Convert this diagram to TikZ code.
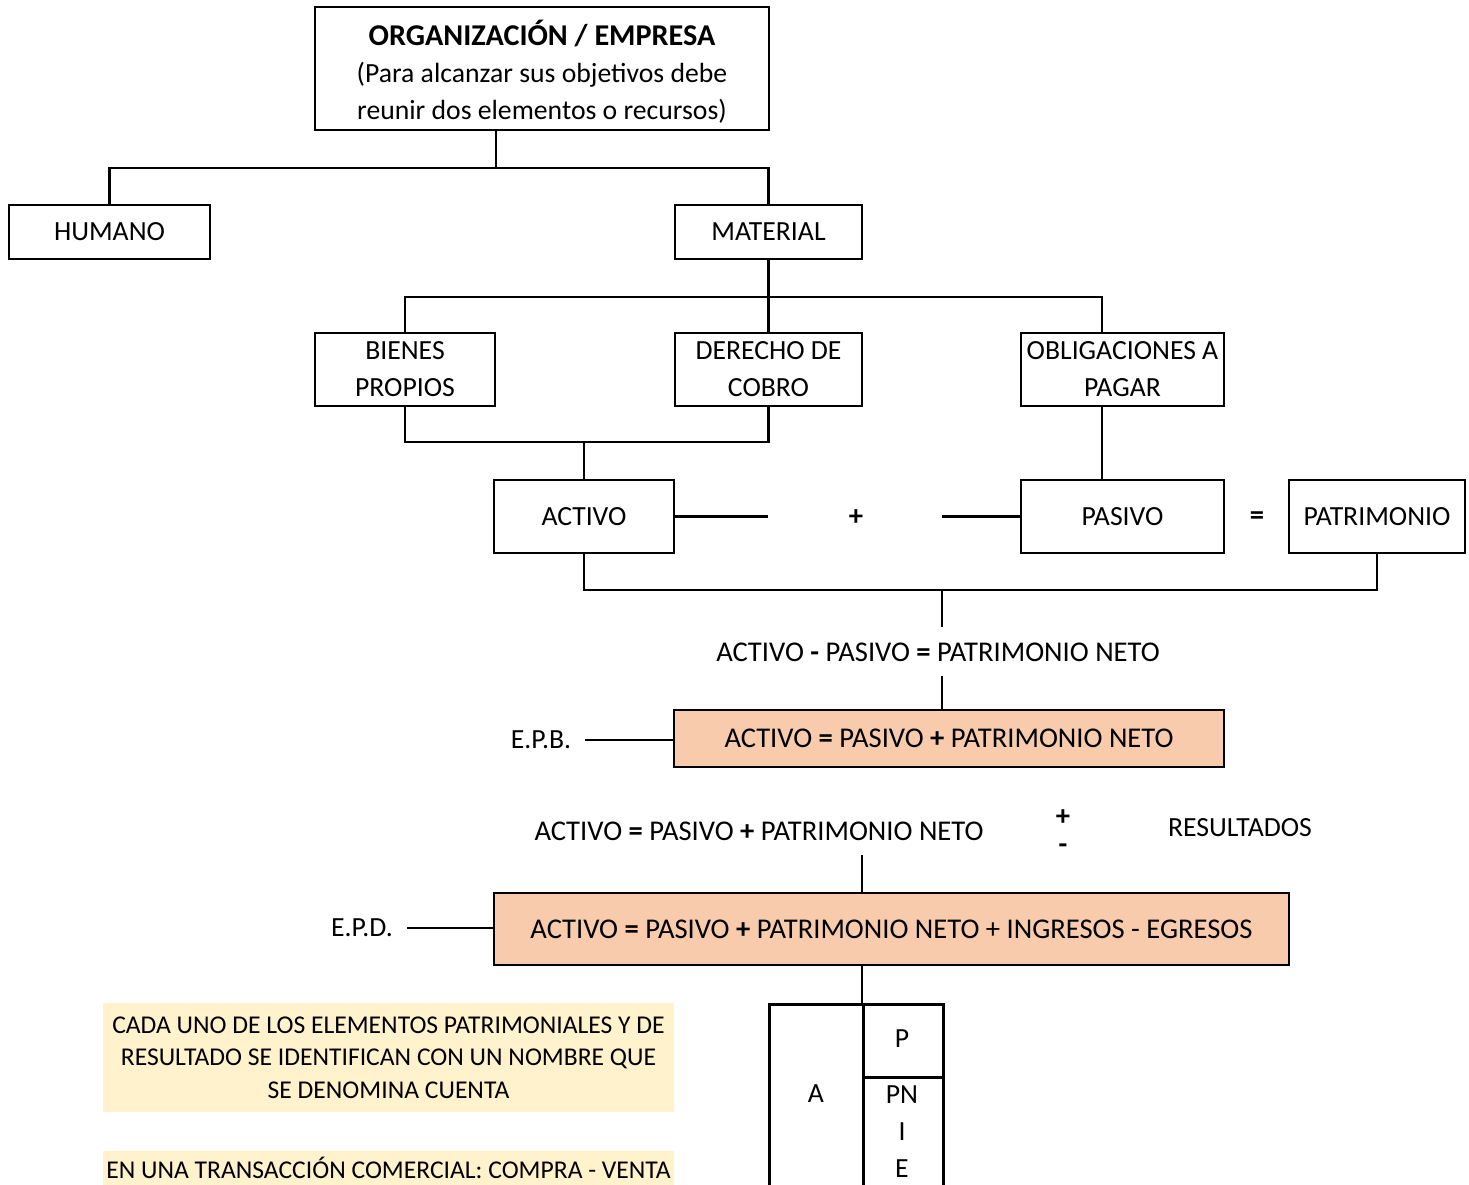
\documentclass[tikz,border=0pt]{standalone}
\usepackage{fontspec}
\setmainfont{Carlito}
\newcommand\fsz{\fontsize{27.7}{37}\selectfont}
\newcommand\fsq{\fontsize{28.6}{37}\selectfont}
\newcommand\fst{\fontsize{30.2}{37}\selectfont}
\newcommand\fsn{\fontsize{25.6}{32.5}\selectfont}
\definecolor{peach}{HTML}{F8CBAD}
\definecolor{notey}{HTML}{FFF2CC}
\begin{document}
\begin{tikzpicture}[x=1pt,y=-1pt,line width=2.6pt,
  box/.style={draw,line width=2.6pt,inner sep=0pt,align=center,font=\fsz},
  lbl/.style={inner sep=0pt,align=center,font=\fsz},
  eql/.style={inner sep=0pt,align=center,font=\fsq},
  note/.style={fill=notey,inner sep=0pt,align=center,font=\fsn},
  eqbox/.style={box,fill=peach,font=\fsq}]
\useasboundingbox (0,0) rectangle (1469,1184);
\clip (0,0) rectangle (1469,1184);
% boxes
\node[box,minimum width=454,minimum height=123] (org) at (542,68.5) {};
\node[lbl] (orgt) at ([yshift=-3.5pt]org.center) {{\fst\textbf{ORGANIZACIÓN / EMPRESA}}\\(Para alcanzar sus objetivos debe\\reunir dos elementos o recursos)};
\node[box,minimum width=201,minimum height=54] (hum) at (109.5,232) {HUMANO};
\node[box,minimum width=187,minimum height=54] (mat) at (768.5,232) {MATERIAL};
\node[box,minimum width=180,minimum height=73] (bie) at (405,369.5) {BIENES\\PROPIOS};
\node[box,minimum width=187,minimum height=73] (der) at (768.5,369.5) {DERECHO DE\\COBRO};
\node[box,minimum width=203,minimum height=73] (obl) at (1122.5,369.5) {OBLIGACIONES A\\PAGAR};
\node[box,minimum width=180,minimum height=73] (act) at (584,516.5) {ACTIVO};
\node[box,minimum width=203,minimum height=73] (pas) at (1122.5,516.5) {PASIVO};
\node[box,minimum width=176,minimum height=73] (pat) at (1377,516.5) {PATRIMONIO};
\node[eql] (plus) at (856,518) {\textbf{+}};
\node[eql] (eqs) at (1257,518) {\textbf{=}};
\node[eql] (eq1) at (938,652) {ACTIVO \textbf{-} PASIVO \textbf{=} PATRIMONIO NETO};
\node[eqbox,minimum width=550,minimum height=57] (epb) at (949,738.5) {ACTIVO \textbf{=} PASIVO \textbf{+} PATRIMONIO NETO};
\node[lbl] (lblB) at (541,740) {E.P.B.};
\node[eql] (eq2) at (759,831) {ACTIVO \textbf{=} PASIVO \textbf{+} PATRIMONIO NETO};
\node[eql,font=\fontsize{28.6}{28}\selectfont] (pm) at (1063,832) {\textbf{+}\\\textbf{-}};
\node[lbl] (res) at (1240,828) {RESULTADOS};
\node[eqbox,minimum width=795,minimum height=72] (epd) at (891.5,929) {ACTIVO \textbf{=} PASIVO \textbf{+} PATRIMONIO NETO + INGRESOS - EGRESOS};
\node[lbl] (lblD) at (362,928) {E.P.D.};
% T account
\node[draw,line width=2.6pt,inner sep=0pt,minimum width=94,minimum height=220,anchor=north west] (tA) at (768,1003) {};
\node[draw,line width=2.6pt,inner sep=0pt,minimum width=80,minimum height=73,anchor=north west] (tP) at (862,1003) {};
\node[draw,line width=2.6pt,inner sep=0pt,minimum width=80,minimum height=147,anchor=north west] (tR) at (862,1076) {};
\node[lbl] (ta) at (816,1094) {A};
\node[lbl] (tp) at (902,1039) {P};
\node[lbl] (tpn) at (902,1095) {PN};
\node[lbl] (ti) at (902,1132) {I};
\node[lbl] (te) at (902,1169) {E};
% notes
\node[note,minimum width=571,minimum height=109] (n1) at (388.5,1057.5) {CADA UNO DE LOS ELEMENTOS PATRIMONIALES Y DE\\RESULTADO SE IDENTIFICAN CON UN NOMBRE QUE\\SE DENOMINA CUENTA};
\node[fill=notey,inner sep=0pt,minimum width=571,minimum height=50,anchor=north] (n2) at (388.5,1150) {};
\node[lbl,font=\fsn] (n2t) at (388.5,1168) {EN UNA TRANSACCIÓN COMERCIAL: COMPRA - VENTA};
% connectors
\coordinate (j1) at (496,168);
\draw ([xshift=-46pt]org.south) -- (j1);
\draw (hum.north) |- (j1) -| (mat.north);
\coordinate (j2) at (768.5,297);
\draw (mat.south) -- (j2) -- (der.north);
\draw (bie.north) |- (j2);
\draw (j2) -| ([xshift=-20.5pt]obl.north);
\coordinate (j3) at (584,442);
\draw (bie.south) |- (j3) -| (der.south);
\draw (j3) -- (act.north);
\draw ([xshift=-20.5pt]obl.south) -- ([xshift=-20.5pt]pas.north);
\coordinate (pl1) at (768,516.5);
\coordinate (pl2) at (942,516.5);
\draw (act.east) -- (pl1);
\draw (pl2) -- (pas.west);
\coordinate (j4) at (942,590);
\draw (act.south) |- (j4) -| (pat.south);
\coordinate (c5) at (942,627);
\draw (j4) -- (c5);
\coordinate (c6) at (942,676);
\draw (c6) -- (epb.north -| c6);
\draw ([xshift=13pt]lblB.east) -- (lblB.east -| epb.west);
\coordinate (c7) at (862,855);
\draw (c7) -- (epd.north -| c7);
\draw ([xshift=13pt]lblD.east) -- (lblD.east -| epd.west);
\draw (epd.south -| tP.north west) -- (tP.north west);
\end{tikzpicture}
\end{document}
